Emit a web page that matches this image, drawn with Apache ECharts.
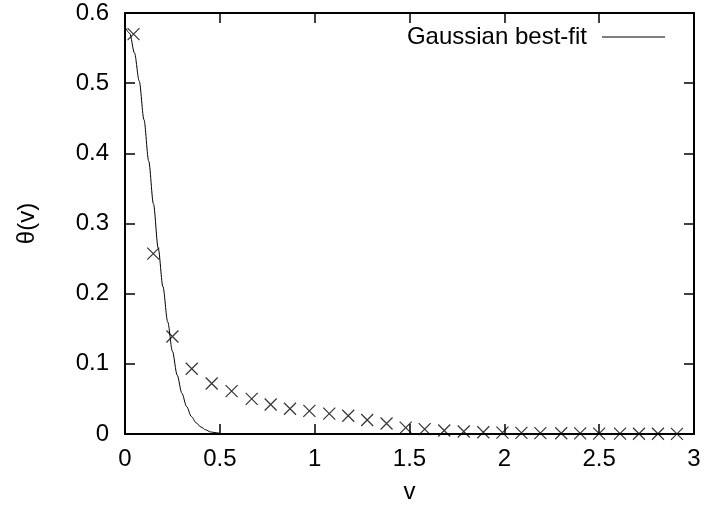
<html>
<head>
    <meta charset="utf-8">
    <title>theta(v)</title>
    <script src="https://cdn.jsdelivr.net/npm/echarts@6.0.0/dist/echarts.min.js"></script>
    <style>
        body { margin: 0; background: #fff; }
        #chartmain { width: 706px; height: 510px; }
    </style>
</head>
<body>
    <div id="chartmain"></div>

    <script type="text/javascript">
        // measured points (crosses)
        var dataV = [0.045, 0.149, 0.25, 0.352, 0.457, 0.562, 0.668, 0.768, 0.87, 0.972,
            1.077, 1.177, 1.277, 1.379, 1.48, 1.58, 1.683, 1.786, 1.889, 1.99,
            2.09, 2.19, 2.30, 2.40, 2.50, 2.61, 2.71, 2.81, 2.91];
        var dataTheta = [0.570, 0.257, 0.139, 0.093, 0.072, 0.061, 0.050, 0.042, 0.036, 0.033,
            0.029, 0.026, 0.020, 0.015, 0.009, 0.007, 0.005, 0.0035, 0.0025, 0.002,
            0.0015, 0.0012, 0.001, 0.0008, 0.0006, 0.0005, 0.0004, 0.0003, 0.0002];

        // best-fit curve
        var fitV = [0, 0.025, 0.05, 0.075, 0.1, 0.125, 0.15, 0.175, 0.2, 0.225,
            0.25, 0.275, 0.3, 0.325, 0.35, 0.375, 0.4, 0.425, 0.45, 0.475, 0.5];
        var fitTheta = [0.580, 0.571, 0.543, 0.503, 0.448, 0.389, 0.328, 0.265, 0.210, 0.160,
            0.118, 0.084, 0.058, 0.039, 0.025, 0.016, 0.010, 0.006, 0.003, 0.002, 0.001];

        var fitName = 'Gaussian best-fit';
        var font = 'Liberation Sans, Arial, sans-serif';
        var fs = 24;

        var myChart = echarts.init(document.getElementById('chartmain'));

        var pts = dataV.map(function (v, i) { return [v, dataTheta[i]]; });
        var fit = fitV.map(function (v, i) { return [v, fitTheta[i]]; });

        function tick() {
            return { show: true, inside: true, length: 10, lineStyle: { color: '#000', width: 1.5 } };
        }
        function aline() {
            return { show: true, onZero: false, lineStyle: { color: '#000', width: 2 } };
        }

        myChart.setOption({
            animation: false,
            backgroundColor: '#fff',
            grid: { left: 125, right: 12, top: 13, bottom: 76 },
            legend: {
                data: [{ name: fitName, icon: 'rect' }],
                right: 36,
                top: 20,
                align: 'right',
                itemWidth: 63,
                itemHeight: 1.2,
                padding: 5,
                textStyle: { fontFamily: font, fontSize: fs, color: '#000', padding: [0, 10, 0, 0] }
            },
            xAxis: [
                {
                    type: 'value', min: 0, max: 3, interval: 0.5,
                    name: 'v', nameLocation: 'middle', nameGap: 46,
                    nameTextStyle: { fontFamily: font, fontSize: fs, color: '#000' },
                    axisLine: aline(), axisTick: tick(), splitLine: { show: false },
                    axisLabel: { fontFamily: font, fontSize: fs, color: '#000', margin: 13 }
                },
                {
                    type: 'value', min: 0, max: 3, interval: 0.5, position: 'top',
                    axisLine: aline(), axisTick: tick(), splitLine: { show: false },
                    axisLabel: { show: false }
                }
            ],
            yAxis: [
                {
                    type: 'value', min: 0, max: 0.6, interval: 0.1,
                    name: 'θ(v)', nameLocation: 'middle', nameGap: 86,
                    nameTextStyle: { fontFamily: font, fontSize: fs, color: '#000' },
                    axisLine: aline(), axisTick: tick(), splitLine: { show: false },
                    axisLabel: { fontFamily: font, fontSize: fs, color: '#000', margin: 16 }
                },
                {
                    type: 'value', min: 0, max: 0.6, interval: 0.1, position: 'right',
                    axisLine: aline(), axisTick: tick(), splitLine: { show: false },
                    axisLabel: { show: false }
                }
            ],
            series: [
                {
                    name: fitName,
                    type: 'line',
                    data: fit,
                    symbol: 'none',
                    smooth: 0.3,
                    smoothMonotone: 'x',
                    lineStyle: { color: '#000', width: 1 },
                    itemStyle: { color: '#000' }
                },
                {
                    name: 'data',
                    type: 'scatter',
                    data: pts,
                    symbol: 'path://M0,0L10,10M10,0L0,10',
                    symbolSize: 12,
                    itemStyle: { color: 'none', borderColor: '#000', borderWidth: 1.2 }
                },
                {
                    // empty series so the mirror axes draw their ticks
                    name: 'mirror',
                    type: 'line',
                    xAxisIndex: 1,
                    yAxisIndex: 1,
                    data: [],
                    symbol: 'none'
                }
            ]
        });
    </script>
</body>
</html>
